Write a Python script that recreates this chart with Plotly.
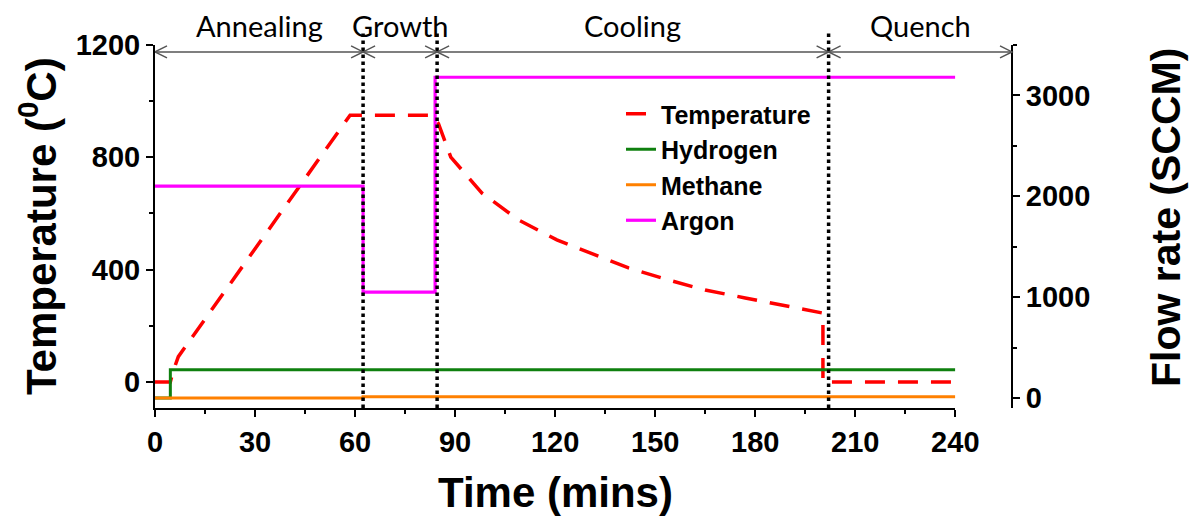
import plotly.graph_objects as go

# ---------------- data ----------------
time_temp = [0, 4.6, 5.5, 7, 58.5, 83, 85, 88.7, 98, 109, 120.5, 142, 154, 165, 177, 188, 199.5, 200.3, 200.3, 240]
temperature = [0, 0, 40, 90, 950, 950, 920, 801, 673, 577, 506, 406, 363, 327, 299, 274, 250, 245, 0, 0]

time_h2 = [0, 4.6, 240]
hydrogen = [0, 280, 280]

time_ch4 = [0, 62.4, 240]
methane = [0, 12, 12]

time_ar = [0, 62.4, 84, 240]
argon = [2100, 1050, 3180, 3180]

phase_names = ["Annealing", "Growth", "Cooling", "Quench"]
phase_bounds = [0, 62.4, 84.6, 202, 257]   # last bound = right axis position

x_ticks = [0, 30, 60, 90, 120, 150, 180, 210, 240]
temp_ticks = [0, 400, 800, 1200]
flow_ticks = [0, 1000, 2000, 3000]

# ---------------- layout helpers ----------------
FONT = "Liberation Sans, Arial, sans-serif"
L, R, T, B = 155, 179, 45, 109
W, H = 1191, 517
PW, PH = W - L - R, H - T - B
x_max_data = 240
x_end_paper = phase_bounds[-1]
dom_end = x_max_data / x_end_paper
arrow_y = 0.981


def px_x(px):
    return (px - L) / PW


def px_y(py):
    return (H - B - py) / PH


fig = go.Figure()
fig.add_trace(go.Scatter(x=time_temp, y=temperature, name="Temperature", mode="lines",
                         line=dict(color="#FF0000", width=3.5, dash="20px,13px"), yaxis="y"))
fig.add_trace(go.Scatter(x=time_h2, y=hydrogen, name="Hydrogen", mode="lines", line_shape="hv",
                         line=dict(color="#0F800F", width=3), yaxis="y2"))
fig.add_trace(go.Scatter(x=time_ch4, y=methane, name="Methane", mode="lines", line_shape="hv",
                         line=dict(color="#FF8000", width=3), yaxis="y2"))
fig.add_trace(go.Scatter(x=time_ar, y=argon, name="Argon", mode="lines", line_shape="hv",
                         line=dict(color="#FF00FF", width=3.2), yaxis="y2"))

tickfont = dict(family=FONT, size=29, color="black", weight="bold")
axis_common = dict(showline=True, linewidth=2, linecolor="black", ticks="outside", ticklen=7,
                   tickwidth=2, tickcolor="black", showgrid=False, zeroline=False, tickfont=tickfont)

shapes = []
# dotted phase boundaries
for b in phase_bounds[1:-1]:
    shapes.append(dict(type="line", xref="x", yref="paper", x0=b, x1=b, y0=0, y1=1.035,
                       line=dict(color="black", width=3.5, dash="dot")))
# arrow line
shapes.append(dict(type="line", xref="paper", yref="paper", x0=0, x1=1, y0=arrow_y, y1=arrow_y,
                   line=dict(color="#555555", width=1.5)))
# arrowheads
head_left = "M 12,6 L 0,0 L 12,-6"
head_right = "M -12,6 L 0,0 L -12,-6"
for i, b in enumerate(phase_bounds):
    is_last = i == len(phase_bounds) - 1
    xref = "paper" if is_last else "x"
    xa = 1 if is_last else b
    if i < len(phase_bounds) - 1:
        shapes.append(dict(type="path", xref=xref, yref="paper", xsizemode="pixel", ysizemode="pixel",
                           xanchor=xa, yanchor=arrow_y, path=head_left,
                           line=dict(color="#555555", width=1.5)))
    if i > 0:
        shapes.append(dict(type="path", xref=xref, yref="paper", xsizemode="pixel", ysizemode="pixel",
                           xanchor=xa, yanchor=arrow_y, path=head_right,
                           line=dict(color="#555555", width=1.5)))

annotations = []
for i, name in enumerate(phase_names):
    mid = (phase_bounds[i] + phase_bounds[i + 1]) / 2
    annotations.append(dict(x=mid, y=px_y(25), xref="x", yref="paper", text=name, showarrow=False,
                            xanchor="center", yanchor="middle",
                            font=dict(family="Lato, Open Sans, sans-serif", size=29, color="#000000")))
# axis titles
annotations.append(dict(x=px_x(555), y=px_y(492), xref="paper", yref="paper",
                        xanchor="center", yanchor="middle", showarrow=False,
                        text="Time (mins)", font=dict(family=FONT, size=42, color="black", weight="bold")))
annotations.append(dict(x=px_x(38), y=px_y(226), xref="paper", yref="paper", xanchor="center",
                        yanchor="middle", textangle=-90, showarrow=False,
                        text="Temperature (<sup>0</sup>C)",
                        font=dict(family=FONT, size=42, color="black", weight="bold")))
annotations.append(dict(x=px_x(1166), y=px_y(218), xref="paper", yref="paper", xanchor="center",
                        yanchor="middle", textangle=-90, showarrow=False,
                        text="Flow rate (SCCM)",
                        font=dict(family=FONT, size=41, color="black", weight="bold")))

fig.update_layout(
    width=W, height=H,
    margin=dict(l=L, r=R, t=T, b=B, autoexpand=False),
    paper_bgcolor="white", plot_bgcolor="white",
    showlegend=True,
    legend=dict(x=px_x(621), y=px_y(91), xanchor="left", yanchor="top", bgcolor="rgba(0,0,0,0)",
                font=dict(family=FONT, size=25, color="black", weight="bold"),
                tracegroupgap=0),
    xaxis=dict(domain=[0, dom_end], range=[0, x_max_data], tickvals=x_ticks,
               minor=dict(dtick=15, tick0=0, ticks="outside", ticklen=4, tickwidth=2, tickcolor="black"),
               anchor="y", **axis_common),
    yaxis=dict(range=[-93, 1200], tickvals=temp_ticks,
               minor=dict(dtick=200, tick0=0, ticks="outside", ticklen=4, tickwidth=2, tickcolor="black"),
               **axis_common),
    yaxis2=dict(range=[-100, 3500], tickvals=flow_ticks, overlaying="y", side="right",
                anchor="free", position=1.0,
                minor=dict(dtick=500, tick0=0, ticks="outside", ticklen=4, tickwidth=2, tickcolor="black"),
                **axis_common),
    shapes=shapes,
    annotations=annotations,
)

fig.write_html("out.html")
